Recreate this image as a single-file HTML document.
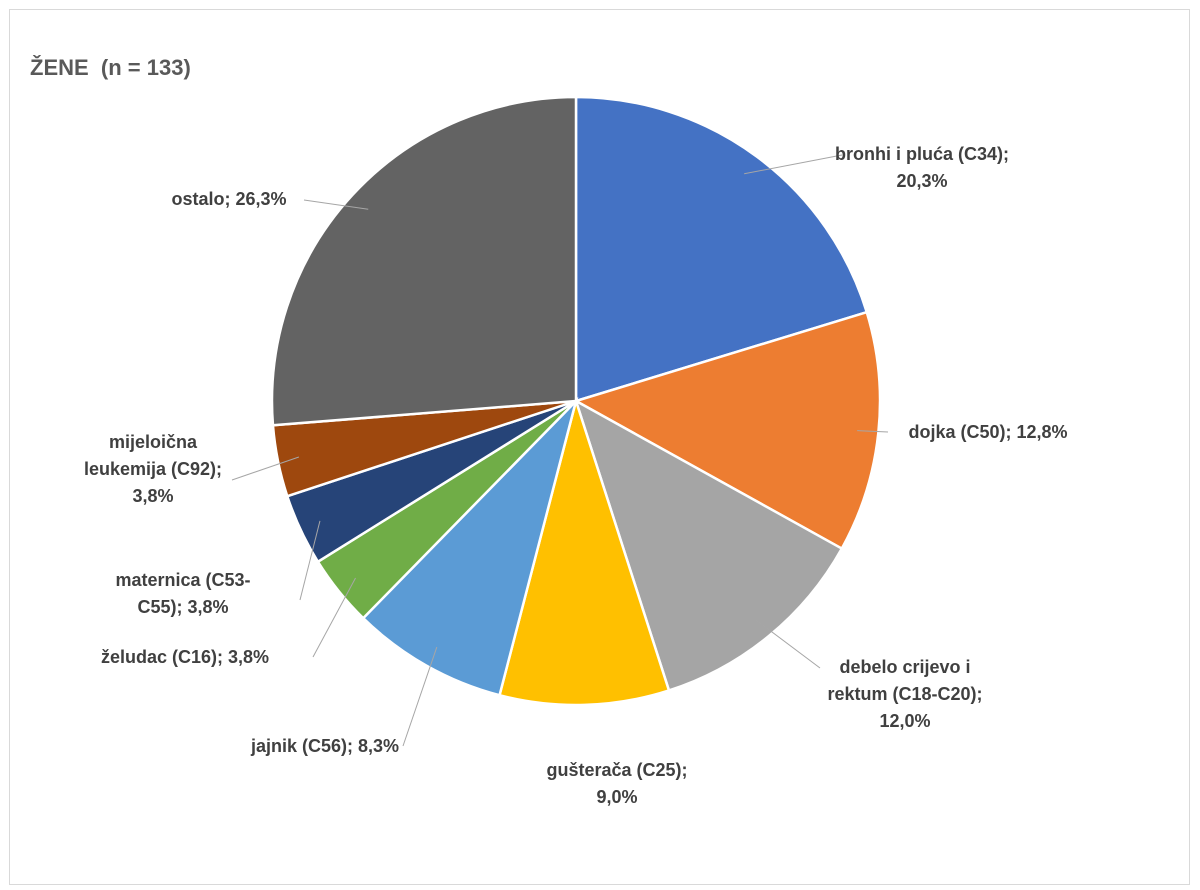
<!DOCTYPE html>
<html><head><meta charset="utf-8">
<style>
body{margin:0;background:#fff;}
#wrap{position:relative;width:1200px;height:890px;overflow:hidden;background:#fff;font-family:"Liberation Sans",sans-serif;}
.frame{position:absolute;left:9px;top:9px;width:1181px;height:876px;border:1px solid #d9d9d9;box-sizing:border-box;}
.title{position:absolute;left:30px;top:55px;font-size:22px;font-weight:bold;color:#595959;white-space:pre;}
</style></head><body>
<div id="wrap">
<div class="frame"></div>
<div class="title">ŽENE  (n = 133)</div>
<svg id="pie" width="1200" height="890" style="position:absolute;left:0;top:0"></svg>
</div>
<script>
const categories=["bronhi i pluća (C34)","dojka (C50)","debelo crijevo i rektum (C18-C20)","gušterača (C25)","jajnik (C56)","želudac (C16)","maternica (C53-C55)","mijeloična leukemija (C92)","ostalo"];
const values=[20.3,12.8,12.0,9.0,8.3,3.8,3.8,3.8,26.3];
const valueLabels=["20,3%","12,8%","12,0%","9,0%","8,3%","3,8%","3,8%","3,8%","26,3%"];
const colors=["#4472C4","#ED7D31","#A5A5A5","#FFC000","#5B9BD5","#70AD47","#264478","#9E480E","#636363"];
// label layout: lines of text, anchor x, first baseline y, text-anchor, leader end point
const labelLines=[
 ["bronhi i pluća (C34);","VAL"],["dojka (C50); VAL"],["debelo crijevo i","rektum (C18-C20);","VAL"],
 ["gušterača (C25);","VAL"],["jajnik (C56); VAL"],["želudac (C16); VAL"],["maternica (C53-","C55); VAL"],
 ["mijeloična","leukemija (C92);","VAL"],["ostalo; VAL"]];
const labelPos=[[922,160,"middle",842,155],[988,438,"middle",888,432],[905,673,"middle",820,668],
 [617,776,"middle",0,0],[325,752,"middle",403,746],[185,663,"middle",313,657],[183,586,"middle",300,600],
 [153,448,"middle",232,480],[229,205,"middle",304,200]];
const svg=document.getElementById('pie');
const NS="http://www.w3.org/2000/svg";
const cx=576,cy=401,R=304;
const total=values.reduce((a,b)=>a+b,0);
function pt(a,r){return [cx+r*Math.sin(a),cy-r*Math.cos(a)];}
let a0=0;
values.forEach((v,i)=>{
  const a1=a0+v/total*2*Math.PI;
  const p0=pt(a0,R),p1=pt(a1,R);
  const large=(a1-a0)>Math.PI?1:0;
  const p=document.createElementNS(NS,'path');
  p.setAttribute('d',`M${cx},${cy} L${p0[0]},${p0[1]} A${R},${R} 0 ${large} 1 ${p1[0]},${p1[1]} Z`);
  p.setAttribute('fill',colors[i]);p.setAttribute('stroke','#fff');p.setAttribute('stroke-width','2.5');
  
  
  svg.appendChild(p);
  const mid=(a0+a1)/2;
  const lp=labelPos[i];
  if(lp[3]){
    const e=pt(mid,R*0.93);
    const l=document.createElementNS(NS,'polyline');
    l.setAttribute('points',`${e[0]},${e[1]} ${lp[3]},${lp[4]}`);
    l.setAttribute('fill','none');l.setAttribute('stroke','#a6a6a6');l.setAttribute('stroke-width','1');
    
    
    svg.appendChild(l);
  }
  const t=document.createElementNS(NS,'text');
  t.setAttribute('x',lp[0]);t.setAttribute('y',lp[1]);t.setAttribute('text-anchor',lp[2]);
  t.setAttribute('font-size','18');t.setAttribute('font-weight','bold');t.setAttribute('fill','#404040');
  t.setAttribute('font-family','Liberation Sans, sans-serif');
  
  
  labelLines[i].forEach((s,k)=>{
    const ts=document.createElementNS(NS,'tspan');
    ts.setAttribute('x',lp[0]);ts.setAttribute('dy',k?27:0);
    ts.textContent=s.replace('VAL',valueLabels[i]);
    t.appendChild(ts);
  });
  svg.appendChild(t);
  a0=a1;
});
</script>
</body></html>
